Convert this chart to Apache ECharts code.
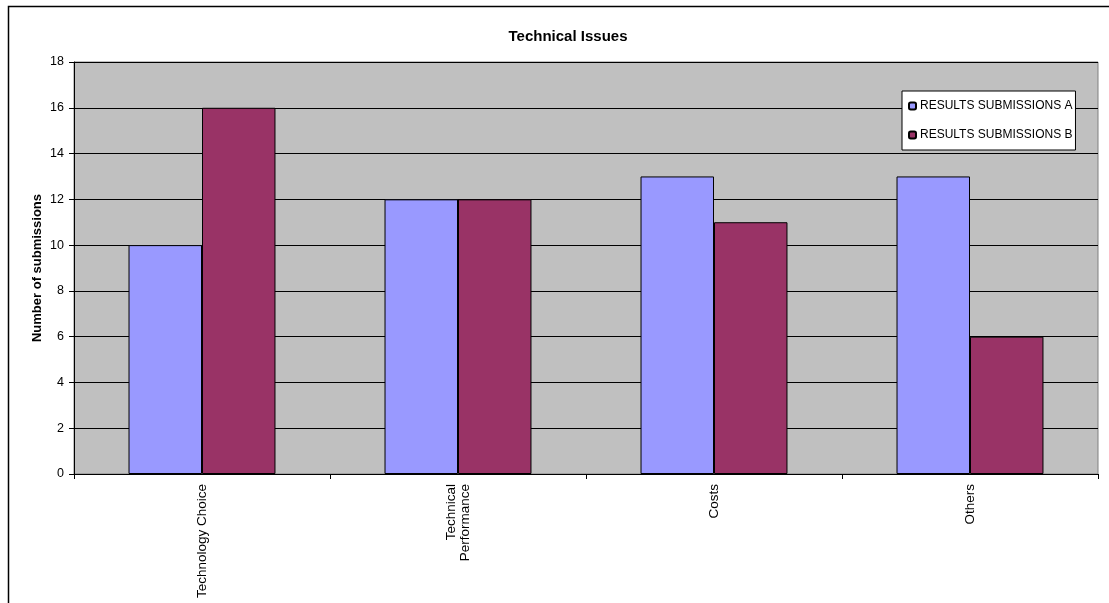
<!DOCTYPE html>
<html>
<head>
<meta charset="utf-8">
<script src="https://cdn.jsdelivr.net/npm/echarts@6/dist/echarts.min.js"></script>
<style>
html,body{margin:0;padding:0;background:#fff;}
#chart{width:1109px;height:603px;}
</style>
</head>
<body>
<div id="chart"></div>
<script>
const categories = ['Technology Choice', 'Technical\nPerformance', 'Costs', 'Others'];
const seriesNames = ['RESULTS SUBMISSIONS A', 'RESULTS SUBMISSIONS B'];
const valuesA = [10, 12, 13, 13];
const valuesB = [16, 12, 11, 6];
const yTicks = [0, 2, 4, 6, 8, 10, 12, 14, 16, 18];

const font = 'Liberation Sans, Arial, sans-serif';
const chart = echarts.init(document.getElementById('chart'));
chart.setOption({
  animation: false,
  backgroundColor: '#ffffff',
  graphic: [{
    type: 'rect', shape: { x: 8.5, y: 6.5, width: 1300, height: 800 },
    style: { fill: 'none', stroke: '#000', lineWidth: 1.5 }, silent: true, z: 100
  }],
  title: {
    text: 'Technical Issues', left: 563, top: 24, textAlign: 'center',
    textStyle: { fontFamily: font, fontSize: 15, fontWeight: 'bold', color: '#000' }
  },
  legend: {
    orient: 'vertical', left: 902, top: 91,
    backgroundColor: '#fff', borderColor: '#000', borderWidth: 1,
    padding: [8, 3, 8, 6], itemWidth: 7, itemHeight: 7, itemGap: 15,
    textStyle: { fontFamily: font, fontSize: 12, color: '#000', padding: [0, 0, 0, -1], lineHeight: 14 },
    data: seriesNames
  },
  grid: {
    left: 74, right: 11, top: 62, bottom: 129,
    show: true, backgroundColor: '#C0C0C0', borderColor: '#808080', borderWidth: 1
  },
  xAxis: {
    type: 'category', data: categories,
    axisLine: { lineStyle: { color: '#000', width: 1 } },
    axisTick: { show: true, alignWithLabel: false, length: 5, lineStyle: { color: '#000' } },
    axisLabel: { rotate: 90, interval: 0, margin: 10, fontFamily: font, fontSize: 13.5, color: '#000', lineHeight: 14 }
  },
  yAxis: {
    type: 'value', min: yTicks[0], max: yTicks[yTicks.length - 1], interval: 2,
    name: 'Number of submissions', nameLocation: 'middle', nameGap: 30, nameMoveOverlap: false,
    nameTextStyle: { fontFamily: font, fontSize: 13, fontWeight: 'bold', color: '#000' },
    axisLine: { show: true, lineStyle: { color: '#000' } },
    axisTick: { show: true, length: 5, lineStyle: { color: '#000' } },
    axisLabel: { margin: 10, fontFamily: font, fontSize: 12.5, color: '#000' },
    splitLine: { show: true, lineStyle: { color: '#000', width: 1 } }
  },
  series: [
    { name: seriesNames[0], type: 'bar', data: valuesA, barGap: '0%', barCategoryGap: '42.6%',
      itemStyle: { color: '#9999FF', borderColor: '#000', borderWidth: 1 } },
    { name: seriesNames[1], type: 'bar', data: valuesB, barGap: '0%', barCategoryGap: '42.6%',
      itemStyle: { color: '#993366', borderColor: '#000', borderWidth: 1 } }
  ]
});
</script>
</body>
</html>
